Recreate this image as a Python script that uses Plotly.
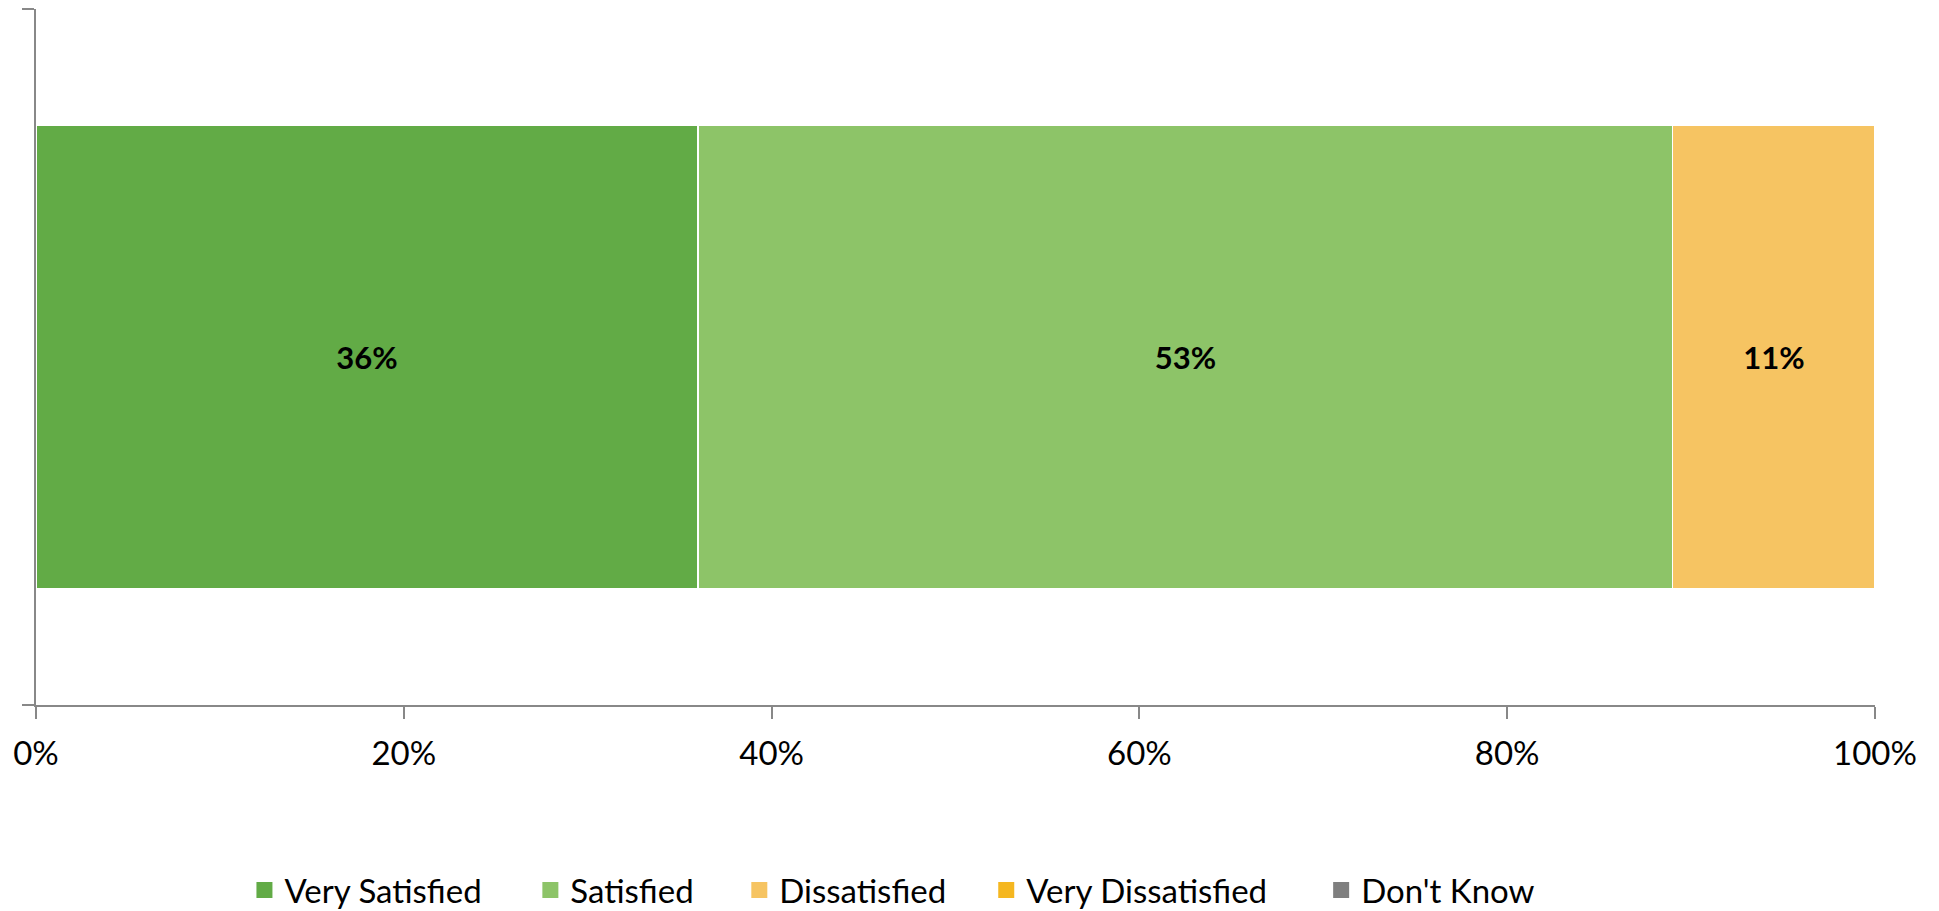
import plotly.graph_objects as go

categories = ["Very Satisfied", "Satisfied", "Dissatisfied", "Very Dissatisfied", "Don't Know"]
values = [36, 53, 11, 0, 0]
colors = ["#62AB46", "#8DC468", "#F6C462", "#F5B720", "#7F7F7F"]
x_ticks = [0, 20, 40, 60, 80, 100]
x_tick_labels = ["0%", "20%", "40%", "60%", "80%", "100%"]

FONT = "Lato"
PLOT_L, PLOT_W = 27.5, 1839.5
legend_left_px = [236, 522, 731, 978, 1313]   # legend item left edges (figure px)

fig = go.Figure()
for name, val, col in zip(categories, values, colors):
    fig.add_trace(go.Bar(
        x=[val], y=[0], name=name, orientation="h",
        marker=dict(color=col, line=dict(color="white", width=1.5 if val > 0 else 0)),
        width=0.665,
        text=[f"<b>{val}%</b>" if val > 0 else ""],
        textposition="inside", insidetextanchor="middle",
        textfont=dict(family=FONT, size=31, color="black"),
        hoverinfo="x+name", showlegend=False, legendgroup=name,
    ))

legend_layouts = {}
for i, (name, col) in enumerate(zip(categories, colors)):
    key = "legend" if i == 0 else f"legend{i + 1}"
    fig.add_trace(go.Scatter(
        x=[None], y=[None], mode="markers", name=name, legendgroup=name,
        marker=dict(symbol="square", size=16, color=col),
        showlegend=True, hoverinfo="skip", legend=key,
    ))
    legend_layouts[key] = dict(
        orientation="h", x=(legend_left_px[i] - PLOT_L) / PLOT_W, xanchor="left",
        y=-0.266, yanchor="middle", bgcolor="rgba(0,0,0,0)", borderwidth=0,
        font=dict(family=FONT, size=33, color="black"), itemsizing="trace",
    )

fig.update_layout(
    width=1931, height=903,
    barmode="stack",
    plot_bgcolor="white", paper_bgcolor="white",
    margin=dict(l=PLOT_L, r=64, t=0.5, b=206, autoexpand=False),
    font=dict(family=FONT, color="black"),
    showlegend=True,
    **legend_layouts,
)
fig.update_xaxes(
    range=[0, 100], tickvals=x_ticks, ticktext=x_tick_labels,
    showgrid=False, zeroline=False, showline=True, linecolor="#888888", linewidth=1.5,
    ticks="outside", ticklen=12, tickwidth=1.5, tickcolor="#888888",
    tickfont=dict(family=FONT, size=33, color="black"), ticklabelstandoff=7,
)
fig.update_yaxes(
    range=[-0.5, 0.5], tickvals=[-0.5, 0.5], ticktext=["", ""],
    showgrid=False, zeroline=False, showline=True, linecolor="#888888", linewidth=1.5,
    ticks="outside", ticklen=12, tickwidth=1.5, tickcolor="#888888",
)

fig.write_html("out.html")
